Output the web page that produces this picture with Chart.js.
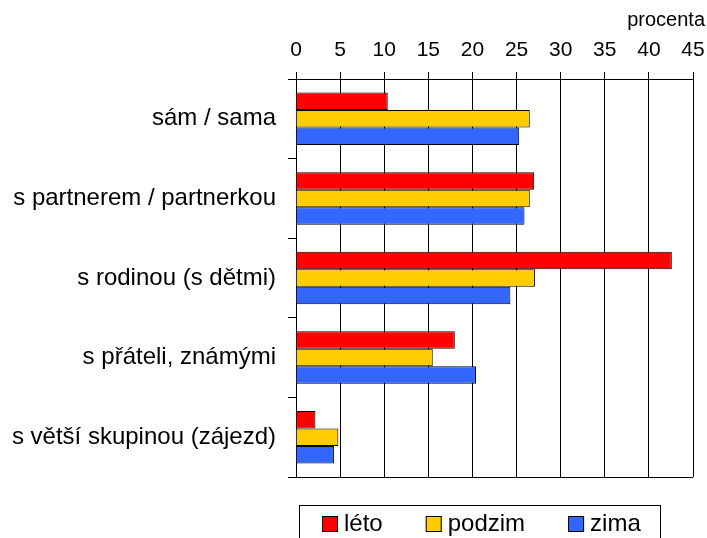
<!DOCTYPE html>
<html>
<head>
<meta charset="utf-8">
<script src="https://cdn.jsdelivr.net/npm/chart.js@4"></script>
<style>
  html, body { margin: 0; padding: 0; background: #fff; }
  #wrap { width: 707px; height: 538px; }
</style>
</head>
<body>
<div id="wrap"><canvas id="myChart" width="707" height="538"></canvas></div>
<script>
// kategorie (osa Y)
var kategorie = ["sám / sama", "s partnerem / partnerkou", "s rodinou (s dětmi)", "s přáteli, známými", "s větší skupinou (zájezd)"];

// hodnoty v procentech
var leto = [10.4, 27.0, 42.6, 18.0, 2.2];
var podzim = [26.5, 26.5, 27.1, 15.5, 4.8];
var zima = [25.3, 25.9, 24.3, 20.4, 4.3];

// osa X
var osaMin = 0;
var osaMax = 45;
var osaKrok = 5;
var osaNazev = "procenta";

var FONT = "'Liberation Sans', Arial, sans-serif";

// popisek "procenta" vpravo nahore
var nazevOsy = {
  id: "nazevOsy",
  afterDraw: function (chart) {
    var c = chart.ctx;
    c.save();
    c.font = "20px " + FONT;
    c.fillStyle = "#000";
    c.textAlign = "right";
    c.textBaseline = "middle";
    c.fillText(osaNazev, 705, 20);
    c.restore();
  },
};

// legenda v ramecku dole
var legenda = {
  id: "legenda",
  afterDraw: function (chart) {
    var c = chart.ctx;
    c.save();
    c.strokeStyle = "#000";
    c.lineWidth = 1;
    c.strokeRect(299.5, 505.5, 361, 60);
    c.font = "24px " + FONT;
    c.textBaseline = "middle";
    c.textAlign = "left";
    var x = 322;
    chart.data.datasets.forEach(function (ds) {
      c.fillStyle = ds.backgroundColor;
      c.fillRect(x, 516, 16, 16);
      c.strokeRect(x + 0.5, 516.5, 15, 15);
      c.fillStyle = "#000";
      c.fillText(ds.label, x + 22, 524);
      x += 22 + c.measureText(ds.label).width + 43;
    });
    c.restore();
  },
};

var ctx = document.getElementById("myChart").getContext("2d");

var chart = new Chart(ctx, {
  type: "bar",
  data: {
    labels: kategorie,
    datasets: [
      { label: "léto", backgroundColor: "#FF0000", borderColor: "#000", borderWidth: 1, data: leto },
      { label: "podzim", backgroundColor: "#FFCC00", borderColor: "#000", borderWidth: 1, data: podzim },
      { label: "zima", backgroundColor: "#3366FF", borderColor: "#000", borderWidth: 1, data: zima },
    ],
  },
  options: {
    indexAxis: "y",
    responsive: false,
    animation: false,
    devicePixelRatio: 1,
    layout: { padding: { left: 0, right: 14, top: 0, bottom: 61 } },
    categoryPercentage: 0.66,
    barPercentage: 1.0,
    plugins: {
      legend: { display: false },
      tooltip: { enabled: false },
    },
    scales: {
      x: {
        position: "top",
        min: osaMin,
        max: osaMax,
        afterFit: function (s) {
          s.height = 79;
          s.paddingLeft = 0;
          s.paddingRight = 0;
        },
        ticks: {
          stepSize: osaKrok,
          color: "#000",
          padding: 9,
          maxRotation: 0,
          font: { family: FONT, size: 21 },
        },
        grid: { color: "#000", lineWidth: 1, tickLength: 7, tickColor: "#000" },
        border: { display: true, color: "#000", width: 1 },
      },
      y: {
        afterFit: function (s) { s.width = 296; },
        ticks: {
          color: "#000",
          padding: 12,
          font: { family: FONT, size: 24 },
        },
        grid: {
          offset: true,
          tickLength: 8,
          tickColor: "#000",
          color: function (c) {
            return (c.index === 0 || c.index === undefined) ? "#000" : "rgba(0,0,0,0)";
          },
        },
        border: { display: true, color: "#000", width: 1 },
      },
    },
  },
  plugins: [nazevOsy, legenda],
});
</script>
</body>
</html>
